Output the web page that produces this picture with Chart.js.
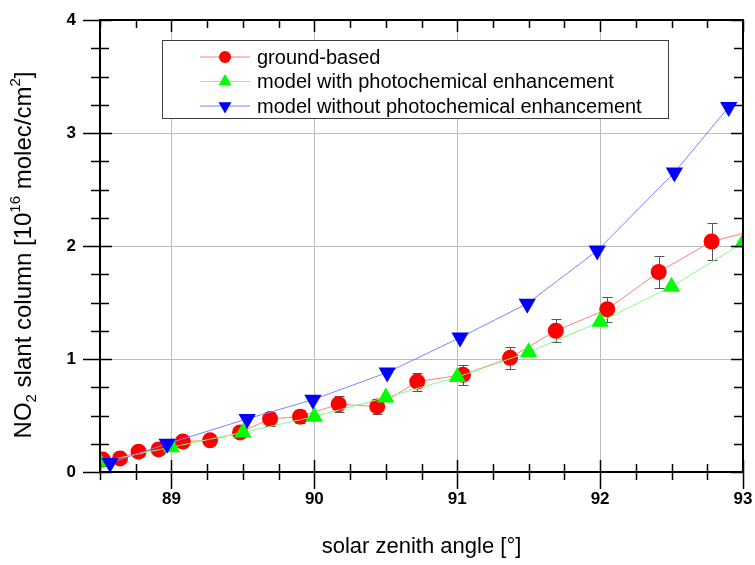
<!DOCTYPE html>
<html>
<head>
<meta charset="utf-8">
<script src="https://cdn.jsdelivr.net/npm/chart.js@4.4.0/dist/chart.umd.min.js"></script>
<style>
  body { margin: 0; background: #fff; }
</style>
</head>
<body>
<canvas id="no2Chart" width="755" height="565"></canvas>
<script>
// ground-based measurements (last one sits just past the right edge)
const groundSza = [88.52, 88.64, 88.77, 88.91, 89.08, 89.27, 89.48, 89.69, 89.90, 90.17, 90.44, 90.72, 91.04, 91.37, 91.69, 92.05, 92.41, 92.78, 93.12];
const groundNo2 = [0.11, 0.12, 0.18, 0.20, 0.27, 0.28, 0.35, 0.47, 0.49, 0.60, 0.58, 0.80, 0.86, 1.01, 1.25, 1.44, 1.77, 2.04, 2.15];
const groundErr = [0.03, 0.03, 0.03, 0.04, 0.04, 0.04, 0.05, 0.06, 0.06, 0.07, 0.07, 0.08, 0.09, 0.10, 0.10, 0.11, 0.14, 0.16, 0.16];

// model with photochemical enhancement
const withSza = [88.5, 89.0, 89.5, 90.0, 90.5, 91.0, 91.5, 92.0, 92.5, 93.0];
const withNo2 = [0.09, 0.22, 0.35, 0.49, 0.66, 0.84, 1.06, 1.33, 1.64, 2.03];

// model without photochemical enhancement
const withoutSza = [88.57, 88.97, 89.53, 89.99, 90.51, 91.02, 91.49, 91.98, 92.52, 92.90];
const withoutNo2 = [0.08, 0.25, 0.47, 0.64, 0.88, 1.19, 1.49, 1.96, 2.65, 3.23];

const seriesNames = [
  "ground-based",
  "model with photochemical enhancement",
  "model without photochemical enhancement",
];

const xTicks = [88.5, 89, 90, 91, 92, 93];
const yTicks = [0, 1, 2, 3, 4];
const xMinorStep = 0.25;
const yMinorStep = 0.25;

const FONT = "'Liberation Sans', Arial, sans-serif";

function toPoints(xs, ys) {
  return xs.map((x, i) => ({ x: x, y: ys[i] }));
}

// error bars for the ground-based series
const errorBars = {
  id: "errorBars",
  beforeDatasetsDraw(chart) {
    const { ctx, chartArea, scales } = chart;
    ctx.save();
    ctx.beginPath();
    ctx.rect(chartArea.left, chartArea.top, chartArea.right - chartArea.left, chartArea.bottom - chartArea.top);
    ctx.clip();
    ctx.strokeStyle = "#555555";
    ctx.lineWidth = 1;
    groundSza.forEach((sza, i) => {
      const px = Math.round(scales.x.getPixelForValue(sza)) + 0.5;
      const top = Math.round(scales.y.getPixelForValue(groundNo2[i] + groundErr[i])) + 0.5;
      const bot = Math.round(scales.y.getPixelForValue(groundNo2[i] - groundErr[i])) + 0.5;
      ctx.beginPath();
      ctx.moveTo(px, top); ctx.lineTo(px, bot);
      ctx.moveTo(px - 5, top); ctx.lineTo(px + 5, top);
      ctx.moveTo(px - 5, bot); ctx.lineTo(px + 5, bot);
      ctx.stroke();
    });
    ctx.restore();
  },
};

// frame, crossing ticks, legend box and axis titles
const decorations = {
  id: "decorations",
  afterDatasetsDraw(chart) {
    const { ctx, chartArea, scales } = chart;
    const { left, right, top, bottom } = chartArea;
    const xs = scales.x, ys = scales.y;
    ctx.save();
    ctx.strokeStyle = "#000";
    ctx.lineWidth = 2;
    ctx.strokeRect(left, top, right - left, bottom - top);

    ctx.lineWidth = 1.5;
    ctx.beginPath();
    for (let v = xs.min; v <= xs.max + 1e-9; v += xMinorStep) {
      const major = Math.abs(v - Math.round(v)) < 1e-6;
      const px = Math.round(xs.getPixelForValue(v)) + 0.5;
      const inLen = major ? 12 : 8, outLen = major ? 17 : 8;
      ctx.moveTo(px, bottom - inLen); ctx.lineTo(px, bottom + outLen);
      ctx.moveTo(px, top); ctx.lineTo(px, top + inLen);
    }
    for (let v = ys.min; v <= ys.max + 1e-9; v += yMinorStep) {
      const major = Math.abs(v - Math.round(v)) < 1e-6;
      const py = Math.round(ys.getPixelForValue(v)) + 0.5;
      const inLen = major ? 12 : 9, outLen = major ? 17 : 9;
      ctx.moveTo(left - outLen, py); ctx.lineTo(left + inLen, py);
      ctx.moveTo(right - inLen, py); ctx.lineTo(right, py);
    }
    ctx.stroke();

    // legend
    ctx.fillStyle = "#fff";
    ctx.fillRect(162, 40, 506, 78);
    ctx.strokeStyle = "#404040";
    ctx.lineWidth = 1;
    ctx.strokeRect(162.5, 40.5, 506, 78);
    ctx.font = "20px " + FONT;
    ctx.textBaseline = "middle";
    chart.data.datasets.forEach((ds, i) => {
      const y = 57 + i * 24.5;
      ctx.strokeStyle = ds.borderColor;
      ctx.lineWidth = 1;
      ctx.beginPath();
      ctx.moveTo(200, y); ctx.lineTo(250, y);
      ctx.stroke();
      ctx.fillStyle = ds.pointBackgroundColor;
      ctx.strokeStyle = ds.pointBackgroundColor;
      Chart.helpers.drawPoint(ctx, {
        pointStyle: ds.pointStyle,
        rotation: ds.pointRotation || 0,
        radius: ds.pointStyle === "circle" ? 6 : 7.5,
        borderWidth: 0,
      }, 225, y);
      ctx.fillStyle = "#000";
      ctx.fillText(seriesNames[i], 257, y + 1);
    });

    // x title
    ctx.fillStyle = "#000";
    ctx.font = "22px " + FONT;
    ctx.textAlign = "center";
    ctx.textBaseline = "alphabetic";
    ctx.fillText("solar zenith angle [°]", (left + right) / 2, 553);

    // y title with sub/superscripts
    const parts = [
      ["NO", 0], ["2", 1], [" slant column [10", 0], ["16", -1],
      [" molec/cm", 0], ["2", -1], ["]", 0],
    ];
    ctx.translate(31, 255);
    ctx.rotate(-Math.PI / 2);
    ctx.textAlign = "left";
    const fontFor = (s) => (s === 0 ? "24px " : "15px ") + FONT;
    let total = 0;
    parts.forEach(([t, s]) => { ctx.font = fontFor(s); total += ctx.measureText(t).width; });
    let cx = -total / 2;
    parts.forEach(([t, s]) => {
      ctx.font = fontFor(s);
      const dy = s === 1 ? 5 : s === -1 ? -11 : 0;
      ctx.fillText(t, cx, dy);
      cx += ctx.measureText(t).width;
    });
    ctx.restore();
  },
};

const config = {
  type: "line",
  data: {
    datasets: [
      {
        label: seriesNames[0],
        data: toPoints(groundSza, groundNo2),
        borderColor: "#ff8080",
        borderWidth: 1,
        pointStyle: "circle",
        pointRadius: 8,
        pointBackgroundColor: "#ff0000",
        pointBorderColor: "#ff0000",
        pointBorderWidth: 0,
        order: 2,
        clip: 0,
      },
      {
        label: seriesNames[1],
        data: toPoints(withSza, withNo2),
        borderColor: "#80ff80",
        borderWidth: 1,
        pointStyle: "triangle",
        pointRadius: 10,
        pointBackgroundColor: "#00ff00",
        pointBorderColor: "#00ff00",
        pointBorderWidth: 0,
        order: 1,
        clip: 0,
      },
      {
        label: seriesNames[2],
        data: toPoints(withoutSza, withoutNo2),
        borderColor: "#8080ff",
        borderWidth: 1,
        pointStyle: "triangle",
        pointRotation: 180,
        pointRadius: 10,
        pointBackgroundColor: "#0000ff",
        pointBorderColor: "#0000ff",
        pointBorderWidth: 0,
        order: 0,
        clip: 0,
      },
    ],
  },
  options: {
    responsive: false,
    devicePixelRatio: 1,
    animation: false,
    layout: { padding: { top: 20, right: 12, left: 0, bottom: 0 } },
    scales: {
      x: {
        type: "linear",
        min: 88.5,
        max: 93,
        afterBuildTicks: (scale) => { scale.ticks = xTicks.map((v) => ({ value: v })); },
        afterFit: (scale) => {
          scale.height = 93;
          scale.paddingLeft = 0;
          scale.paddingRight = 0;
        },
        grid: { color: "#bdbdbd", lineWidth: 1, drawTicks: false },
        border: { display: false },
        ticks: {
          padding: 17,
          color: "#000",
          font: { family: FONT, size: 17, weight: "bold" },
          callback: (v) => (Number.isInteger(v) ? String(v) : ""),
        },
      },
      y: {
        type: "linear",
        min: 0,
        max: 4,
        afterBuildTicks: (scale) => { scale.ticks = yTicks.map((v) => ({ value: v })); },
        afterFit: (scale) => {
          scale.width = 100;
          scale.paddingTop = 0;
          scale.paddingBottom = 0;
        },
        grid: { color: "#bdbdbd", lineWidth: 1, drawTicks: false },
        border: { display: false },
        ticks: {
          padding: 24,
          color: "#000",
          font: { family: FONT, size: 17, weight: "bold" },
        },
      },
    },
    plugins: {
      legend: { display: false },
      tooltip: { enabled: false },
    },
  },
  plugins: [errorBars, decorations],
};

const ctx = document.getElementById("no2Chart").getContext("2d");
const no2Chart = new Chart(ctx, config);
</script>
</body>
</html>
